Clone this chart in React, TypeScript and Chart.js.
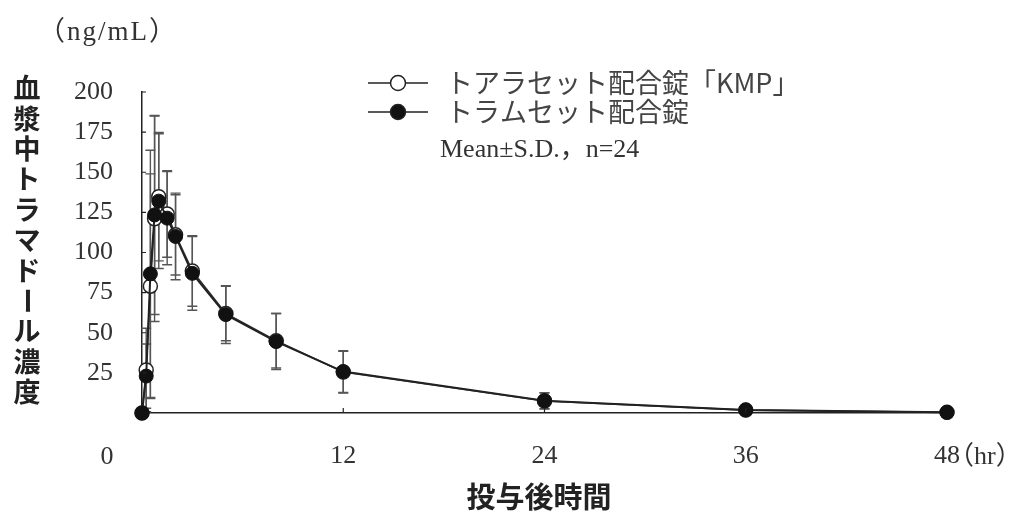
import React, { useEffect, useRef } from "react";
import { Chart, registerables } from "chart.js";

Chart.register(...registerables);

// ---- data ----
const timesHr = [0, 0.25, 0.5, 0.75, 1, 1.5, 2, 3, 5, 8, 12, 24, 36, 48];
const kmpMean = [0, 26.8, 79, 121, 134.8, 124, 111, 88.5, 62, 45, 25.5, 7.5, 1.8, 0.4];
const kmpSD = [0, 26, 70, 64, 40, 27, 25, 22, 17, 17, 13, 5, 1.5, 0.5];
const tramMean = [0, 23, 86.7, 123.4, 132, 121.4, 110, 87, 61.3, 44.5, 25.8, 7.7, 1.9, 0.4];
const tramSD = [0, 20, 77, 62, 42, 29, 27, 23, 18, 17.5, 13, 5, 1.5, 0.5];

const xTickValues = [0, 12, 24, 36, 48];
const yTickValues = [25, 50, 75, 100, 125, 150, 175, 200];
const innerXTicks = [12, 24, 36];

const seriesLabels = ["トアラセット配合錠「KMP」", "トラムセット配合錠"];
const noteLabel = "Mean±S.D.，n=24";
const yTitleChars = "血漿中トラマドール濃度";
const xTitle = "投与後時間";
const yUnitLabel = "（ng/mL）";
const xUnitLabel = "（hr）";
const originLabel = "0";

const SERIF = "'Liberation Serif', 'Noto Sans CJK JP', serif";
const GOTHIC = "'Noto Sans CJK JP', sans-serif";
const INK = "#222";
const TEXT = "#333";

const decorPlugin = {
  id: "decor",
  beforeDatasetsDraw(chart: any) {
    const ctx = chart.ctx;
    const xs = chart.scales.x;
    const ys = chart.scales.y;
    ctx.save();
    ctx.strokeStyle = "#555";
    ctx.lineWidth = 1.4;
    const series: [number[], number[]][] = [
      [kmpMean, kmpSD],
      [tramMean, tramSD],
    ];
    for (const [m, s] of series) {
      timesHr.forEach((t, i) => {
        if (!s[i]) return;
        const x = xs.getPixelForValue(t);
        const yt = ys.getPixelForValue(m[i] + s[i]);
        const yb = ys.getPixelForValue(Math.max(0, m[i] - s[i]));
        ctx.beginPath();
        ctx.moveTo(x, yt);
        ctx.lineTo(x, yb);
        ctx.moveTo(x - 5, yt);
        ctx.lineTo(x + 5, yt);
        ctx.moveTo(x - 5, yb);
        ctx.lineTo(x + 5, yb);
        ctx.stroke();
      });
    }
    ctx.restore();
  },
  afterDraw(chart: any) {
    const ctx = chart.ctx;
    const xs = chart.scales.x;
    const ys = chart.scales.y;
    const area = chart.chartArea;
    ctx.save();

    // inner tick marks
    ctx.strokeStyle = INK;
    ctx.lineWidth = 1.2;
    ctx.beginPath();
    for (const v of yTickValues) {
      const y = ys.getPixelForValue(v);
      ctx.moveTo(area.left, y);
      ctx.lineTo(area.left + 4, y);
    }
    for (const v of innerXTicks) {
      const x = xs.getPixelForValue(v);
      ctx.moveTo(x, area.bottom);
      ctx.lineTo(x, area.bottom - 5);
    }
    ctx.stroke();

    // origin "0" label, offset left of the axis
    ctx.fillStyle = TEXT;
    ctx.font = `26px ${SERIF}`;
    ctx.textAlign = "center";
    ctx.textBaseline = "middle";
    ctx.fillText(originLabel, xs.getPixelForValue(0) - 35, area.bottom + 44);

    // (hr) after 48
    ctx.textAlign = "left";
    ctx.font = `26px ${SERIF}`;
    ctx.fillText(xUnitLabel, xs.getPixelForValue(48) + 1, area.bottom + 44);

    // (ng/mL) unit
    ctx.textAlign = "center";
    ctx.font = `27px ${SERIF}`;
    (ctx as any).letterSpacing = "2px";
    ctx.fillText(yUnitLabel, 108, 33);
    (ctx as any).letterSpacing = "0px";

    // vertical y title
    ctx.font = `bold 27px ${GOTHIC}`;
    ctx.fillStyle = INK;
    const chars = Array.from(yTitleChars);
    chars.forEach((c, i) => {
      const cy = 88 + i * 30.4;
      if (c === "ー") {
        ctx.save();
        ctx.translate(27, cy);
        ctx.rotate(Math.PI / 2);
        ctx.fillText(c, 0, 0);
        ctx.restore();
      } else {
        ctx.fillText(c, 27, cy);
      }
    });

    // x title
    ctx.font = `bold 29px ${GOTHIC}`;
    ctx.fillText(xTitle, 539, 497);

    // legend
    const rows = [
      { y: 83, fill: "#fff" },
      { y: 112, fill: "#111" },
    ];
    rows.forEach((r, i) => {
      ctx.strokeStyle = INK;
      ctx.lineWidth = 1.5;
      ctx.beginPath();
      ctx.moveTo(368, r.y);
      ctx.lineTo(428, r.y);
      ctx.stroke();
      ctx.beginPath();
      ctx.arc(398, r.y, 7.5, 0, Math.PI * 2);
      ctx.fillStyle = r.fill;
      ctx.fill();
      ctx.stroke();
      ctx.fillStyle = "#444";
      ctx.font = `27px ${GOTHIC}`;
      ctx.textAlign = "left";
      ctx.fillText(seriesLabels[i], 446, r.y);
    });
    ctx.fillStyle = TEXT;
    ctx.font = `26px ${SERIF}`;
    ctx.textAlign = "left";
    ctx.fillText(noteLabel, 440, 150);

    ctx.restore();
  },
};

export default function App() {
  const ref = useRef<HTMLCanvasElement | null>(null);

  useEffect(() => {
    if (!ref.current) return;
    const mk = (mean: number[]) => timesHr.map((t, i) => ({ x: t, y: mean[i] }));
    const chart = new Chart(ref.current, {
      type: "line",
      data: {
        datasets: [
          {
            label: seriesLabels[0],
            data: mk(kmpMean),
            borderColor: "#333",
            borderWidth: 1.6,
            pointRadius: 7,
            pointBackgroundColor: "#fff",
            pointBorderColor: INK,
            pointBorderWidth: 1.5,
            tension: 0,
            clip: false,
            order: 2,
          } as any,
          {
            label: seriesLabels[1],
            data: mk(tramMean),
            borderColor: INK,
            borderWidth: 2,
            pointRadius: 7,
            pointBackgroundColor: "#111",
            pointBorderColor: "#111",
            pointBorderWidth: 1,
            tension: 0,
            clip: false,
            order: 1,
          } as any,
        ],
      },
      options: {
        responsive: false,
        animation: false,
        devicePixelRatio: 1,
        layout: { padding: { left: 0, right: 89, top: 92, bottom: 0 } },
        plugins: {
          legend: { display: false },
          tooltip: { enabled: false },
        },
        scales: {
          x: {
            type: "linear",
            min: 0,
            max: 48,
            afterBuildTicks: (s: any) => {
              s.ticks = xTickValues.map((v) => ({ value: v }));
            },
            afterFit: (s: any) => {
              s.height = 101;
            },
            ticks: {
              callback: (v: any) => (v === 0 ? "" : String(v)),
              font: { family: SERIF, size: 26 },
              color: TEXT,
              padding: 28,
              maxRotation: 0,
              autoSkip: false,
            },
            grid: { display: false, drawTicks: false },
            border: { display: true, color: INK, width: 1.5 },
          },
          y: {
            type: "linear",
            min: 0,
            max: 200,
            afterBuildTicks: (s: any) => {
              s.ticks = yTickValues.map((v) => ({ value: v }));
            },
            afterFit: (s: any) => {
              s.width = 142;
            },
            ticks: {
              font: { family: SERIF, size: 26 },
              color: TEXT,
              padding: 29,
              autoSkip: false,
            },
            grid: { display: false, drawTicks: false },
            border: { display: true, color: INK, width: 1.5 },
          },
        },
      },
      plugins: [decorPlugin],
    });
    return () => chart.destroy();
  }, []);

  return (
    <div style={{ position: "absolute", left: 0, top: 0, width: 1036, height: 514, background: "#fff" }}>
      <canvas ref={ref} width={1036} height={514} style={{ display: "block" }} />
    </div>
  );
}
